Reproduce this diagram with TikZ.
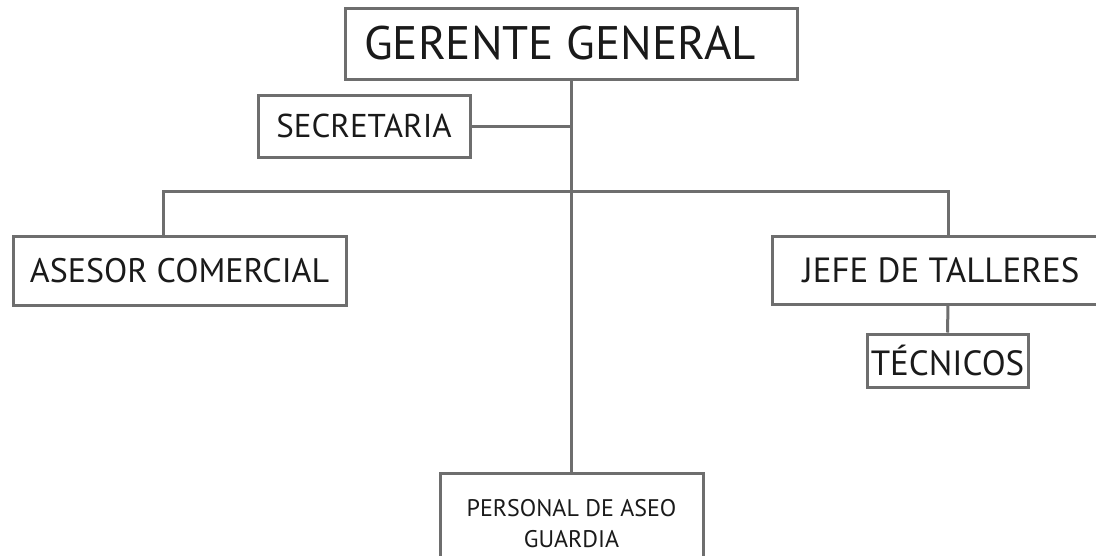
\documentclass[tikz,border=0pt]{standalone}
\usepackage{fontspec}
\setmainfont{PT Sans}
\definecolor{linegray}{HTML}{6E6E6E}
\definecolor{txt}{HTML}{1A1A1A}
\begin{document}
\begin{tikzpicture}[x=1pt,y=-1pt,
  box/.style={draw=linegray, line width=3pt, inner sep=0pt, text=txt, align=center},
  conn/.style={draw=linegray, line width=3pt}]
\useasboundingbox (0,0) rectangle (1096,555);
\clip (0,0) rectangle (1096,555);
\fill[white] (0,0) rectangle (1096,555);
\node[box, minimum width=452pt, minimum height=71pt, font=\fontsize{47}{50}\selectfont] (g) at (571,43.5) {\hspace*{-22pt}GERENTE GENERAL};
\node[box, minimum width=212pt, minimum height=62pt, font=\fontsize{33}{36}\selectfont] (s) at (364,126) {SECRETARIA};
\node[box, minimum width=333pt, minimum height=69pt, font=\fontsize{34}{36}\selectfont] (a) at (179.5,270.5) {ASESOR COMERCIAL};
\node[box, minimum width=352pt, minimum height=68pt, font=\fontsize{35}{36}\selectfont] (j) at (948,270) {\hspace*{-14pt}JEFE DE TALLERES};
\node[box, minimum width=161pt, minimum height=53pt, font=\fontsize{35}{36}\selectfont] (t) at (947.5,360.5) {TÉCNICOS};
\node[box, minimum width=263pt, minimum height=100pt, font=\fontsize{24}{31}\selectfont, anchor=north] (p) at (571.5,472) {PERSONAL DE ASEO\\GUARDIA};
\coordinate (bar) at (571,191);
\draw[conn] (g.south) -- (g.south |- p.north);
\draw[conn] (s.east) -- (s.east -| g.south);
\draw[conn] ([xshift=-16.5pt]a.north) |- (bar) -| (j.north);
\draw[conn] (j.south) -- (t.north);
\end{tikzpicture}
\end{document}
